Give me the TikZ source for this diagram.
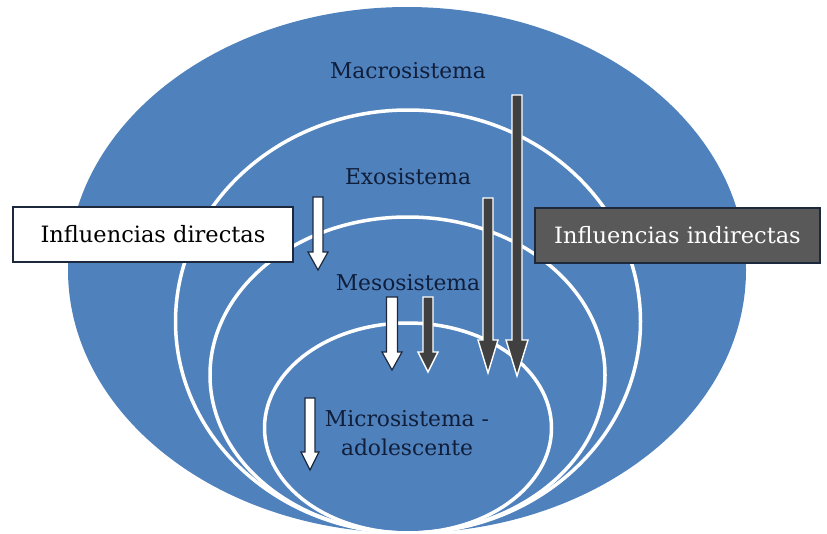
\documentclass[tikz,border=0pt]{standalone}
\usepackage{fontspec}
\setmainfont{DejaVu Serif}
\definecolor{ringblue}{RGB}{79,129,189}
\definecolor{labelnavy}{RGB}{16,30,58}
\definecolor{boxgray}{RGB}{89,89,89}
\definecolor{boxedge}{RGB}{30,40,60}
\definecolor{darkarrow}{RGB}{64,64,64}
\tikzset{
  ring/.style={draw=white,line width=3.5pt},
  syslabel/.style={text=labelnavy,font=\fontsize{21.8}{29.5}\selectfont,inner sep=0pt,align=center},
  whitebox/.style={draw=boxedge,line width=1.3pt,fill=white,text=black,minimum width=280pt,minimum height=55pt,inner sep=0pt,font=\fontsize{22.5}{26}\selectfont},
  graybox/.style={draw=boxedge,line width=1.3pt,fill=boxgray,text=white,minimum width=285pt,minimum height=55pt,inner sep=0pt,font=\fontsize{22.5}{26}\selectfont},
  whitearrow/.style={fill=white,draw=boxedge,line width=1.2pt,line join=miter},
  darkarrowstyle/.style={fill=darkarrow,draw=white,line width=1.4pt,line join=miter}
}
% #1 style, #2 x, #3 top, #4 head start, #5 tip, #6 shaft half width, #7 head half width
\newcommand{\blockarrowdown}[7]{%
  \draw[#1] (#2-#6,#3) -- (#2+#6,#3) -- (#2+#6,#4) -- (#2+#7,#4) -- (#2,#5)
     -- (#2-#7,#4) -- (#2-#6,#4) -- cycle;}
\begin{document}
\begin{tikzpicture}[x=1pt,y=-1pt]
\useasboundingbox (0,0) rectangle (827,533);
% outer ellipse (Macrosistema)
\fill[ringblue] (407,270) ellipse [x radius=339pt, y radius=263pt];
% nested rings
\draw[ring] (408,321.5) ellipse [x radius=232.5pt, y radius=211.5pt];
\draw[ring] (407.5,375) ellipse [x radius=197.5pt, y radius=158pt];
\draw[ring] (408,428) ellipse [x radius=143.5pt, y radius=105pt];
% labels
\node[syslabel] (macro) at (408,71) {Macrosistema};
\node[syslabel] (exo) at (408,177) {Exosistema};
\node[syslabel] (meso) at (408,283) {Mesosistema};
\node[syslabel] (micro) at (407,433) {Microsistema -\\adolescente};
% boxes
\node[whitebox] (directas) at (153,234.5) {Influencias directas};
\node[graybox] (indirectas) at (677.5,235.5) {Influencias indirectas};
% arrows
\blockarrowdown{whitearrow}{318}{197}{252}{270}{5}{10}
\blockarrowdown{whitearrow}{392}{297}{352}{370}{5.5}{10}
\blockarrowdown{darkarrowstyle}{428}{297}{352}{372}{5}{10}
\blockarrowdown{darkarrowstyle}{488}{198}{340}{373}{5}{10}
\blockarrowdown{darkarrowstyle}{517}{95}{340}{376}{5}{11}
\blockarrowdown{whitearrow}{310}{398}{452}{470}{5}{9}
\end{tikzpicture}
\end{document}
